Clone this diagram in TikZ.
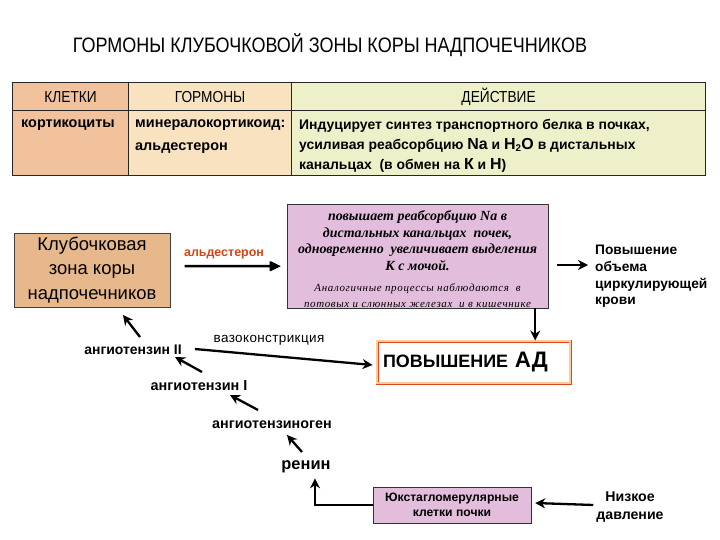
\documentclass[tikz,border=0pt]{standalone}
\usepackage{fontspec}
\setmainfont{Liberation Sans}
\newfontfamily\narrowfont[FakeStretch=0.86]{Liberation Sans}
\newfontfamily\romfont{Liberation Serif}
\usetikzlibrary{arrows.meta, positioning, calc}

\definecolor{hdrorange}{RGB}{241,194,156}
\definecolor{hormbeige}{RGB}{248,226,192}
\definecolor{actgreen}{RGB}{237,240,200}
\definecolor{klubfill}{RGB}{230,184,140}
\definecolor{lilac}{RGB}{226,190,220}
\definecolor{aldored}{RGB}{210,70,20}
\definecolor{adred}{RGB}{220,70,30}

\begin{document}
\begin{tikzpicture}[x=1bp, y=-1bp,
        cellbox/.style={draw=black!85, line width=1.2bp, anchor=north west, inner sep=0pt},
        headtext/.style={font=\narrowfont\fontsize{16}{18}\selectfont},
        celltext/.style={font=\bfseries\fontsize{14.5}{23}\selectfont, anchor=north west, align=left, inner sep=0pt},
        chaintext/.style={font=\bfseries\fontsize{14}{17}\selectfont, inner sep=1bp},
        arrow/.style={-{Stealth[length=10bp, width=10bp]}, line width=2.3bp}
    ]
    \useasboundingbox (0,0) rectangle (720,540);

    % Title
    \node[font=\narrowfont\fontsize{21}{24}\selectfont] (title) at (330,45) {ГОРМОНЫ КЛУБОЧКОВОЙ ЗОНЫ КОРЫ НАДПОЧЕЧНИКОВ};

    % Table
    \node[cellbox, fill=hdrorange, minimum width=116bp, minimum height=28bp, headtext] (hcells) at (12,82) {КЛЕТКИ};
    \node[cellbox, fill=hormbeige, minimum width=163bp, minimum height=28bp, headtext] (hhorm) at (128,82) {ГОРМОНЫ};
    \node[cellbox, fill=actgreen, minimum width=414bp, minimum height=28bp, headtext] (hact) at (291,82) {ДЕЙСТВИЕ};
    \node[cellbox, fill=hdrorange, minimum width=116bp, minimum height=65bp] (ccells) at (12,110) {};
    \node[cellbox, fill=hormbeige, minimum width=163bp, minimum height=65bp] (chorm) at (128,110) {};
    \node[cellbox, fill=actgreen, minimum width=414bp, minimum height=65bp] (cact) at (291,110) {};

    \node[celltext] (cort) at (21,120) {кортикоциты};
    \node[celltext] (mineral) at (135,120) {минералокортикоид:\\альдестерон};
    \node[celltext, font=\bfseries\fontsize{14}{20}\selectfont] (induct) at (299,119)
        {Индуцирует синтез транспортного белка в почках,\\
         усиливая реабсорбцию {\fontsize{16}{20}\selectfont Na} и {\fontsize{16}{20}\selectfont H}\textsubscript{2}{\fontsize{16}{20}\selectfont O} в дистальных\\
         канальцах \ (в обмен на {\fontsize{16}{20}\selectfont К} и {\fontsize{16}{20}\selectfont Н})};

    % Upper flow
    \node[draw=black!75, fill=klubfill, minimum width=156bp, minimum height=74bp, align=center,
          font=\fontsize{18.5}{24.5}\selectfont] (klub) at (92,270) {Клубочковая\\зона коры\\надпочечников};
    \node[font=\bfseries\fontsize{12.5}{14}\selectfont, text=aldored] (aldo) at (224,254) {альдестерон};

    % aldosterone arrow (shaft and head filled)
    \path (aldo.south west) ++(4,4) coordinate (aldotail);
    \fill[black] (aldotail) ++(0,-1.2) -- ++(85,0) -- ++(0,-3.8) -- ++(11,5) -- ++(-11,5) -- ++(0,-3.8) -- ++(-85,0) -- cycle;
    \draw[arrow] (aldotail) -- ++(96,0);

    \node[draw=black!80, fill=lilac, minimum width=261bp, minimum height=104bp] (purp) at (417.5,256) {};
    \node[font=\romfont\bfseries\itshape\fontsize{14}{16.7}\selectfont, align=center, anchor=north] (purpmain) at (417.5,207)
        {повышает реабсорбцию Na в\\дистальных канальцах \ почек,\\одновременно \ увеличивает выделения\\К с мочой.};
    \node[font=\romfont\itshape\fontsize{11}{16}\selectfont\addfontfeatures{LetterSpace=6}, align=center, anchor=north] (purpnote) at (417.5,280)
        {Аналогичные процессы наблюдаются \ в\\потовых и слюнных железах \ и в кишечнике};

    \node[chaintext, font=\bfseries\fontsize{13.8}{16.8}\selectfont, align=left, anchor=north west] (volume) at (594,244)
        {Повышение\\объема\\циркулирующей\\крови};

    \node[draw=adred, line width=0.9bp, double=orange!40, double distance=1.2bp, fill=white,
          minimum width=193bp, minimum height=42bp, text width=181bp, inner xsep=6bp, align=left] (ad) at (473.5,362)
        {\bfseries\fontsize{18}{22}\selectfont ПОВЫШЕНИЕ \ {\fontsize{22.5}{24}\selectfont АД}};

    % Renin-angiotensin chain
    \node[chaintext] (ang2) at (133,350) {ангиотензин II};
    \node[font=\fontsize{13.5}{15}\selectfont\addfontfeatures{LetterSpace=3}] (vaso) at (269,340) {вазоконстрикция};
    \node[chaintext, font=\bfseries\fontsize{14.5}{17}\selectfont] (ang1) at (199,386) {ангиотензин I};
    \node[chaintext, font=\bfseries\fontsize{14.4}{17}\selectfont] (angio) at (272,425) {ангиотензиноген};
    \node[chaintext, font=\bfseries\fontsize{16.5}{19}\selectfont] (renin) at (306,467) {ренин};
    \node[draw=black!80, fill=lilac, minimum width=158bp, minimum height=36bp, align=center,
          font=\bfseries\fontsize{12.2}{15}\selectfont] (yuxt) at (452,505) {Юкстагломерулярные\\клетки почки};
    \node[chaintext, align=center, font=\bfseries\fontsize{14.2}{18}\selectfont] (low) at (630,507) {Низкое\\давление};

    % Arrows
    \draw[arrow] ($(purp.east)+(9,9)$) -- ($(volume.west |- purp.east)+(-6,9)$);
    \draw[arrow] ([xshift=-13bp]purp.south east) -- ([xshift=-13bp]purp.south east |- ad.north);
    \draw[arrow] ($(ang2)+(7,-13)$) -- ($(ang2)+(-10,-35)$);
    \draw[arrow] ($(ang2.east)+(12,-1)$) -- ($(ad.west)+(-4,3)$);
    \draw[arrow] ($(ang1)+(3,-14)$) -- ($(ang1)+(-24,-29)$);
    \draw[arrow] ($(angio)+(-14,-15)$) -- ($(angio)+(-42,-30)$);
    \draw[arrow] ($(renin)+(-4,-15)$) -- ($(renin)+(-19,-32)$);
    \draw[arrow] (yuxt.west) -| ($(renin.south)+(9,4)$);
    \draw[arrow] ($(low.west)+(-2,-2)$) -- ($(yuxt.east)+(4,-2)$);

\end{tikzpicture}
\end{document}
